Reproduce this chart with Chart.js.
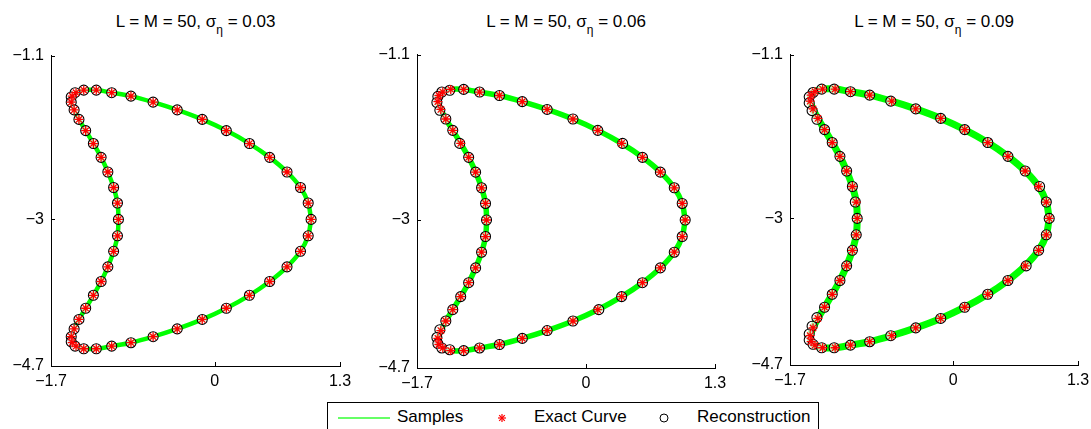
<!DOCTYPE html>
<html>
<head>
<meta charset="utf-8">
<script src="https://cdn.jsdelivr.net/npm/chart.js@4.4.0/dist/chart.umd.min.js"></script>
<style>
  body { margin: 0; background: #fff; width: 1091px; height: 429px; overflow: hidden; position: relative; font-family: "Liberation Sans", Arial, sans-serif; }
  canvas { position: absolute; }
  .title { position: absolute; text-align: center; font-size: 17px; line-height: 20px; white-space: nowrap; color: #000; }
  .title sub { font-size: 12px; vertical-align: baseline; position: relative; top: 7px; }
  #legend { position: absolute; left: 327px; top: 402px; width: 490px; height: 32px; border: 1px solid #000; background: #fff; }
  #legend .txt { position: absolute; top: 4px; font-size: 17px; line-height: 20px; white-space: nowrap; }
  #legend svg { position: absolute; }
</style>
</head>
<body>

<div id="legend">
  <svg style="left:10px; top:12px" width="52" height="6"><line x1="0" y1="3" x2="52" y2="3" stroke="#33ff33" stroke-width="1.5"/></svg>
  <span class="txt" style="left:69px">Samples</span>
  <svg style="left:169px; top:10px" width="10" height="10">
    <g stroke="#ff0000" stroke-width="1.2">
      <line x1="1" y1="5" x2="9" y2="5"/><line x1="5" y1="1" x2="5" y2="9"/>
      <line x1="2.2" y1="2.2" x2="7.8" y2="7.8"/><line x1="2.2" y1="7.8" x2="7.8" y2="2.2"/>
    </g>
  </svg>
  <span class="txt" style="left:206px">Exact Curve</span>
  <svg style="left:331px; top:10px" width="10" height="10"><circle cx="5" cy="5" r="4" fill="none" stroke="#000" stroke-width="1"/></svg>
  <span class="txt" style="left:369px">Reconstruction</span>
</div>

<script>
// noise levels of the three panels
const sigmaValues = [0.03, 0.06, 0.09];

// axis ticks
const xTicks = [-1.7, 0, 1.3];
const yTicks = [-1.1, -3, -4.7];

// exact curve (50 points)
const exactX = [1.00, 0.97, 0.89, 0.75, 0.57, 0.36, 0.12, -0.13, -0.39, -0.64,
  -0.87, -1.07, -1.23, -1.36, -1.44, -1.48, -1.49, -1.46, -1.41, -1.34,
  -1.26, -1.18, -1.11, -1.05, -1.01, -1.00, -1.01, -1.05, -1.11, -1.18,
  -1.26, -1.34, -1.41, -1.46, -1.49, -1.48, -1.44, -1.36, -1.23, -1.07,
  -0.87, -0.64, -0.39, -0.13, 0.12, 0.36, 0.57, 0.75, 0.89, 0.97];
const exactY = [-3.00, -2.81, -2.63, -2.45, -2.28, -2.12, -1.97, -1.84, -1.73, -1.64,
  -1.57, -1.53, -1.50, -1.50, -1.53, -1.57, -1.64, -1.73, -1.84, -1.97,
  -2.12, -2.28, -2.45, -2.63, -2.81, -3.00, -3.19, -3.37, -3.55, -3.72,
  -3.88, -4.03, -4.16, -4.27, -4.36, -4.43, -4.47, -4.50, -4.50, -4.47,
  -4.43, -4.36, -4.27, -4.16, -4.03, -3.88, -3.72, -3.55, -3.37, -3.19];

// reconstructions, one per noise level
const recon1X = [1.00, 0.97, 0.89, 0.75, 0.57, 0.36, 0.12, -0.13, -0.39, -0.64,
  -0.87, -1.07, -1.23, -1.36, -1.45, -1.49, -1.49, -1.46, -1.41, -1.34,
  -1.26, -1.18, -1.11, -1.05, -1.01, -1.00, -1.01, -1.05, -1.11, -1.18,
  -1.26, -1.34, -1.41, -1.46, -1.49, -1.49, -1.45, -1.36, -1.23, -1.07,
  -0.87, -0.64, -0.39, -0.13, 0.12, 0.36, 0.57, 0.75, 0.89, 0.97];
const recon1Y = [-3.00, -2.81, -2.63, -2.45, -2.28, -2.12, -1.97, -1.84, -1.73, -1.64,
  -1.57, -1.53, -1.50, -1.50, -1.53, -1.58, -1.64, -1.73, -1.84, -1.97,
  -2.12, -2.28, -2.45, -2.63, -2.81, -3.00, -3.19, -3.37, -3.55, -3.72,
  -3.88, -4.03, -4.16, -4.27, -4.36, -4.42, -4.47, -4.50, -4.50, -4.47,
  -4.43, -4.36, -4.27, -4.16, -4.03, -3.88, -3.72, -3.55, -3.37, -3.19];

const recon2X = [1.00, 0.97, 0.89, 0.75, 0.57, 0.37, 0.12, -0.13, -0.39, -0.64,
  -0.87, -1.07, -1.23, -1.37, -1.45, -1.49, -1.50, -1.47, -1.41, -1.34,
  -1.27, -1.18, -1.11, -1.05, -1.01, -1.00, -1.01, -1.05, -1.11, -1.18,
  -1.26, -1.34, -1.41, -1.47, -1.50, -1.49, -1.45, -1.37, -1.23, -1.07,
  -0.87, -0.64, -0.39, -0.13, 0.13, 0.36, 0.57, 0.75, 0.89, 0.97];
const recon2Y = [-3.00, -2.81, -2.63, -2.45, -2.28, -2.12, -1.97, -1.84, -1.73, -1.64,
  -1.57, -1.53, -1.50, -1.51, -1.53, -1.58, -1.65, -1.74, -1.84, -1.97,
  -2.12, -2.28, -2.45, -2.63, -2.81, -3.00, -3.19, -3.37, -3.55, -3.72,
  -3.88, -4.03, -4.16, -4.26, -4.35, -4.42, -4.47, -4.49, -4.50, -4.47,
  -4.43, -4.36, -4.27, -4.16, -4.03, -3.88, -3.72, -3.55, -3.37, -3.19];

const recon3X = [1.00, 0.97, 0.90, 0.75, 0.57, 0.36, 0.12, -0.13, -0.39, -0.65,
  -0.87, -1.07, -1.24, -1.37, -1.46, -1.50, -1.50, -1.47, -1.42, -1.34,
  -1.26, -1.18, -1.11, -1.05, -1.02, -1.00, -1.01, -1.05, -1.11, -1.18,
  -1.26, -1.34, -1.42, -1.47, -1.50, -1.50, -1.46, -1.37, -1.24, -1.07,
  -0.87, -0.65, -0.39, -0.13, 0.12, 0.36, 0.57, 0.76, 0.89, 0.97];
const recon3Y = [-3.00, -2.81, -2.63, -2.45, -2.28, -2.12, -1.97, -1.84, -1.73, -1.64,
  -1.57, -1.53, -1.50, -1.50, -1.54, -1.59, -1.66, -1.75, -1.85, -1.97,
  -2.12, -2.28, -2.45, -2.63, -2.81, -3.00, -3.19, -3.37, -3.55, -3.72,
  -3.88, -4.03, -4.15, -4.25, -4.34, -4.41, -4.46, -4.50, -4.50, -4.47,
  -4.43, -4.36, -4.27, -4.16, -4.03, -3.88, -3.72, -3.55, -3.37, -3.19];

const reconX = [recon1X, recon2X, recon3X];
const reconY = [recon1Y, recon2Y, recon3Y];

// plot boxes on the page (axes rectangle) and sample band width
const panels = [
  { left: 51, right: 340, top: 51, bottom: 366, band: 4.5 },
  { left: 417, right: 715, top: 50, bottom: 368, band: 5.5 },
  { left: 790, right: 1078, top: 50, bottom: 365, band: 7 }
];
const padL = 50, padT = 12, padR = 22, padB = 28;

function toPoints(xs, ys) {
  return xs.map((x, i) => ({ x: x, y: ys[i] }));
}

function minusSign(v) {
  return String(v).replace('-', '\u2212');
}

// MATLAB style ticks pointing into the axes
const inwardTicks = {
  id: 'inwardTicks',
  afterDraw(chart) {
    const { ctx, chartArea, scales } = chart;
    ctx.save();
    ctx.strokeStyle = '#000';
    ctx.lineWidth = 1;
    xTicks.forEach(v => {
      const px = Math.round(scales.x.getPixelForValue(v)) + 0.5;
      ctx.beginPath();
      ctx.moveTo(px, chartArea.bottom);
      ctx.lineTo(px, chartArea.bottom - 4);
      ctx.stroke();
    });
    yTicks.forEach(v => {
      const py = Math.round(scales.y.getPixelForValue(v)) + 0.5;
      ctx.beginPath();
      ctx.moveTo(chartArea.left, py);
      ctx.lineTo(chartArea.left + 4, py);
      ctx.stroke();
    });
    ctx.restore();
  }
};

const tickFont = { family: '"Liberation Sans", Arial, sans-serif', size: 16 };

panels.forEach((p, i) => {
  // title
  const title = document.createElement('div');
  title.className = 'title';
  title.style.left = p.left + 'px';
  title.style.width = (p.right - p.left) + 'px';
  title.style.top = '12px';
  title.innerHTML = 'L = M = 50, \u03c3<sub>\u03b7</sub> = ' + sigmaValues[i].toFixed(2);
  document.body.appendChild(title);

  // canvas
  const canvas = document.createElement('canvas');
  const w = (p.right - p.left) + padL + padR;
  const h = (p.bottom - p.top) + padT + padB;
  canvas.width = w;
  canvas.height = h;
  canvas.style.width = w + 'px';
  canvas.style.height = h + 'px';
  canvas.style.left = (p.left - padL) + 'px';
  canvas.style.top = (p.top - padT) + 'px';
  document.body.appendChild(canvas);

  const samples = toPoints(exactX, exactY);
  samples.push({ x: exactX[0], y: exactY[0] });

  new Chart(canvas, {
    type: 'scatter',
    data: {
      datasets: [
        {
          label: 'Samples',
          data: samples,
          showLine: true,
          borderColor: '#00ff00',
          borderWidth: p.band,
          borderJoinStyle: 'round',
          borderCapStyle: 'round',
          tension: 0.3,
          pointRadius: 0,
          order: 3
        },
        {
          label: 'Exact Curve',
          data: toPoints(exactX, exactY),
          pointStyle: 'star',
          pointRadius: 4.5,
          borderColor: '#ff0000',
          backgroundColor: '#ff0000',
          pointBorderWidth: 1.3,
          order: 1
        },
        {
          label: 'Reconstruction',
          data: toPoints(reconX[i], reconY[i]),
          pointStyle: 'circle',
          pointRadius: 5,
          borderColor: '#000000',
          backgroundColor: 'rgba(255,255,255,0.7)',
          pointBorderWidth: 1.1,
          order: 2
        }
      ]
    },
    options: {
      responsive: false,
      animation: false,
      devicePixelRatio: 1,
      layout: { padding: { top: padT, right: padR, left: 0, bottom: 0 } },
      plugins: {
        legend: { display: false },
        tooltip: { enabled: false }
      },
      scales: {
        x: {
          type: 'linear',
          min: -1.7,
          max: 1.3,
          grid: { display: false, drawTicks: false },
          border: { display: true, color: '#000', width: 1 },
          afterBuildTicks: scale => { scale.ticks = xTicks.map(v => ({ value: v })); },
          afterFit: scale => { scale.height = padB; },
          ticks: { color: '#000', font: tickFont, padding: 6, maxRotation: 0, autoSkip: false, callback: v => minusSign(v) }
        },
        y: {
          type: 'linear',
          min: -4.7,
          max: -1.1,
          grid: { display: false, drawTicks: false },
          border: { display: true, color: '#000', width: 1 },
          afterBuildTicks: scale => { scale.ticks = yTicks.map(v => ({ value: v })); },
          afterFit: scale => { scale.width = padL; },
          ticks: { color: '#000', font: tickFont, padding: 7, autoSkip: false, callback: v => minusSign(v) }
        }
      }
    },
    plugins: [inwardTicks]
  });
});
</script>
</body>
</html>
